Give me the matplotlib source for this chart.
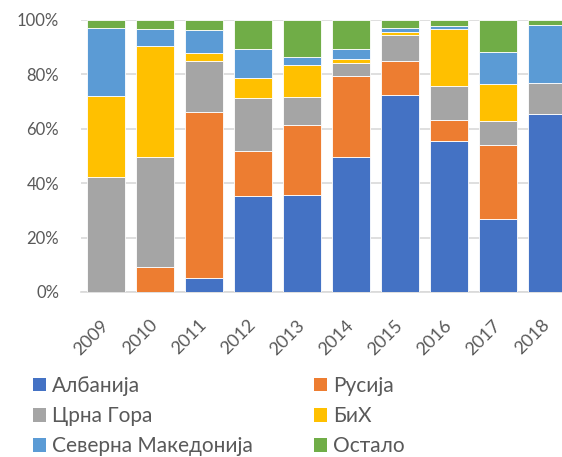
import numpy as np
from matplotlib import pyplot as plt
from matplotlib import ticker as tick
from matplotlib.patches import Patch

years = ['2009', '2010', '2011', '2012', '2013', '2014', '2015', '2016', '2017', '2018']
series_names = ['Албанија', 'Русија', 'Црна Гора', 'БиХ', 'Северна Македонија', 'Остало']
albania = [0.0, 0.0, 5.3, 35.3, 35.5, 49.5, 72.3, 55.4, 26.7, 65.6]
russia = [0.0, 9.3, 61.0, 16.4, 25.8, 29.9, 12.6, 7.7, 27.2, 0.0]
montenegro = [42.4, 40.2, 18.6, 19.5, 10.4, 4.9, 9.6, 12.8, 8.8, 11.2]
bih = [29.7, 40.8, 2.8, 7.6, 11.6, 1.2, 1.1, 20.8, 13.8, 0.0]
n_macedonia = [25.1, 6.3, 8.7, 10.4, 3.0, 4.0, 1.6, 1.1, 11.6, 21.4]
other = [2.8, 3.4, 3.6, 10.8, 13.7, 10.5, 2.8, 2.2, 11.9, 1.8]
colors = ['#4472C4', '#ED7D31', '#A5A5A5', '#FFC000', '#5B9BD5', '#70AD47']

FONT = 'Lato'
TEXT_COLOR = '#595959'

fig = plt.figure(figsize=(5.62, 4.57), dpi=100)
# plot area runs past the right edge, like the cropped original
ax = fig.add_axes([81.3 / 562, 165 / 457, 490 / 562, 272 / 457])

x = np.arange(len(years))
bottom = np.zeros(len(years))
for name, vals, c in zip(series_names, [albania, russia, montenegro, bih, n_macedonia, other], colors):
    vals = np.array(vals)
    ax.bar(x, vals, 0.78, bottom=bottom, color=c, edgecolor='white', linewidth=0.6, zorder=3)
    bottom += vals

ax.set_xlim(-0.5, len(years) - 0.5)
ax.set_ylim(0, 100)
ax.set_yticks(np.arange(0, 101, 20))
ax.yaxis.set_major_formatter(tick.FuncFormatter(lambda v, _: f'{v:.0f}%'))
ax.grid(axis='y', color='#D9D9D9', linewidth=1.2, zorder=0)
for side in ['top', 'right', 'left']:
    ax.spines[side].set_visible(False)
ax.spines['bottom'].set_color('#D9D9D9')
ax.spines['bottom'].set_linewidth(1.2)
ax.tick_params(axis='both', length=0, colors=TEXT_COLOR)
ax.tick_params(axis='y', pad=16)
ax.tick_params(axis='x', pad=22)
ax.set_xticks(x)
ax.set_xticklabels(years, rotation=45, ha='right', va='center', rotation_mode='anchor')
for lbl in ax.get_yticklabels():
    lbl.set_fontsize(12)
    lbl.set_fontfamily(FONT)
for lbl in ax.get_xticklabels():
    lbl.set_fontsize(13)
    lbl.set_fontfamily(FONT)

handles = [Patch(facecolor=c, edgecolor='none', label=n) for n, c in zip(series_names, colors)]
order = [0, 2, 4, 1, 3, 5]
fig.legend([handles[i] for i in order], [series_names[i] for i in order],
           ncol=2, loc='upper left', bbox_to_anchor=(33 / 562, 1 - 376 / 457),
           frameon=False, handlelength=0.63, handleheight=0.63, handletextpad=0.3,
           columnspacing=2.9, labelspacing=0.49, borderpad=0, borderaxespad=0,
           prop={'family': FONT, 'size': 15}, labelcolor=TEXT_COLOR)

fig.savefig('out.png', dpi=100)
